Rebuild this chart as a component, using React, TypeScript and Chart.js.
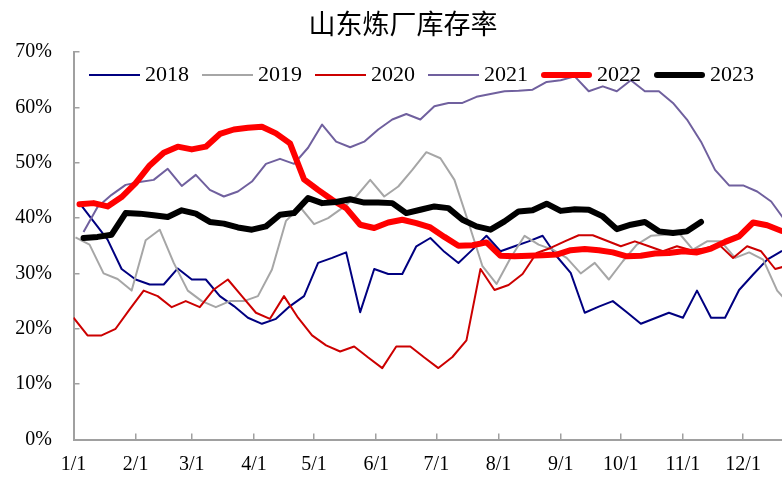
import React, { useEffect, useRef } from 'react';
import { Chart, registerables } from 'chart.js';

Chart.register(...registerables);

const chartTitle = '山东炼厂库存率';
const seriesNames = ['2018', '2019', '2020', '2021', '2022', '2023'];
const monthTickDays = [0, 31, 59, 90, 120, 151, 181, 212, 243, 273, 304, 334];
const monthTickLabels = ['1/1', '2/1', '3/1', '4/1', '5/1', '6/1', '7/1', '8/1', '9/1', '10/1', '11/1', '12/1'];
const yTickStep = 10;
const yMin = 0;
const yMax = 70;
const xMaxDay = 353.4;

// day of year (0 = 1/1) of each series' first weekly reading
const firstWeekDay = [3, 1, 0, 5, 3, 5];

const values2018 = [42.7, 39.4, 36.1, 30.8, 28.9, 28, 28, 30.9, 28.9, 28.9, 25.9, 24.1, 22, 20.9, 21.8, 24.1, 25.9, 31.9, 32.8, 33.8, 23, 30.8, 29.9, 29.9, 34.9, 36.4, 33.9, 31.9, 34.3, 36.8, 34, 34.9, 35.8, 36.8, 33.1, 30.1, 22.9, 24, 25, 23, 20.9, 21.9, 22.9, 22, 26.9, 22, 22, 27, 29.8, 32.5, 34, 35];
const values2019 = [36.5, 35.2, 30, 29, 26.9, 36, 37.9, 31.9, 26.9, 25, 23.9, 25, 25, 25.9, 30.7, 39.5, 42, 38.9, 40, 41.8, 43.9, 46.9, 43.9, 45.7, 48.7, 51.9, 50.8, 46.9, 39.2, 31.3, 28.1, 32.8, 36.8, 35.2, 34.3, 32.8, 30, 31.9, 28.9, 32.2, 35.2, 36.8, 37, 37.3, 34.3, 35.8, 35.8, 32.8, 33.8, 32.5, 26.9, 24];
const values2020 = [22, 18.8, 18.8, 20, 23.5, 26.9, 25.9, 23.9, 25, 23.9, 27.1, 28.9, 25.9, 22.9, 21.8, 25.9, 22, 18.8, 17, 15.9, 16.8, 14.8, 12.9, 16.8, 16.8, 14.8, 12.9, 14.9, 17.9, 30.8, 27, 27.9, 29.9, 33.7, 34.6, 35.8, 36.9, 36.9, 35.9, 34.9, 35.8, 34.9, 34, 34.9, 34.2, 34.5, 35.2, 32.8, 34.9, 34, 30.8, 31.5];
const values2021 = [37.5, 42, 44.2, 46, 46.5, 46.9, 48.9, 45.8, 47.8, 45.1, 43.9, 44.8, 46.6, 49.8, 50.7, 49.8, 52.7, 56.9, 53.8, 52.8, 53.8, 56, 57.8, 58.8, 57.8, 60.2, 60.8, 60.8, 61.9, 62.4, 62.9, 63, 63.2, 64.6, 64.9, 65.6, 62.9, 63.8, 62.9, 64.9, 62.9, 62.9, 60.8, 57.8, 53.8, 48.7, 45.9, 45.9, 44.8, 43, 39.5];
const values2022 = [42.5, 42.7, 42.1, 43.8, 46.3, 49.5, 51.8, 52.9, 52.4, 52.9, 55.2, 56, 56.3, 56.5, 55.3, 53.5, 47, 45.1, 43.3, 41.8, 38.8, 38.2, 39.2, 39.7, 39.1, 38.3, 36.6, 35, 35.1, 35.6, 33.2, 33.1, 33.2, 33.3, 33.4, 34.2, 34.4, 34.2, 33.8, 33.1, 33.2, 33.6, 33.7, 34, 33.8, 34.5, 35.7, 36.7, 39.2, 38.7, 37.7];
const values2023 = [36.4, 36.6, 37, 40.9, 40.8, 40.5, 40.2, 41.4, 40.8, 39.3, 39, 38.3, 37.9, 38.5, 40.6, 40.9, 43.6, 42.7, 42.9, 43.4, 42.8, 42.8, 42.7, 40.9, 41.5, 42.1, 41.8, 39.7, 38.5, 37.9, 39.4, 41.2, 41.4, 42.6, 41.3, 41.6, 41.5, 40.3, 38, 38.8, 39.3, 37.6, 37.3, 37.6, 39.3];

const seriesValues = [values2018, values2019, values2020, values2021, values2022, values2023];
const seriesColors = ['#000080', '#A6A6A6', '#CC0000', '#70609E', '#FF0000', '#000000'];
const seriesWidths = [2, 2, 2, 2, 6, 6];

const serif = "'Liberation Serif', 'Times New Roman', serif";
const axisColor = '#A0A0A0';

function weeklyPoints(values: number[], startDay: number) {
  return values.map((v, i) => ({ x: startDay + 7 * i, y: v }));
}

const titlePlugin = {
  id: 'centeredTitle',
  afterDraw(chart: any) {
    const { ctx } = chart;
    ctx.save();
    ctx.font = "27px 'Noto Sans CJK SC', sans-serif";
    ctx.fillStyle = '#000';
    ctx.textAlign = 'center';
    ctx.textBaseline = 'middle';
    ctx.fillText(chartTitle, 403, 24);
    ctx.restore();
  },
};

const inlineLegendPlugin = {
  id: 'inlineLegend',
  afterDatasetsDraw(chart: any) {
    const { ctx, chartArea } = chart;
    ctx.save();
    ctx.font = `22px ${serif}`;
    ctx.textBaseline = 'middle';
    ctx.textAlign = 'left';
    let x = chartArea.left + 15.5;
    const y = chartArea.top + 23;
    const sampleLen = 51;
    chart.data.datasets.forEach((ds: any) => {
      const w = ds.borderWidth;
      const capInset = w > 3 ? w / 2 : 0;
      ctx.beginPath();
      ctx.strokeStyle = ds.borderColor;
      ctx.lineWidth = w;
      ctx.lineCap = w > 3 ? 'round' : 'butt';
      ctx.moveTo(x + capInset, y);
      ctx.lineTo(x + sampleLen - capInset, y);
      ctx.stroke();
      x += sampleLen + 5;
      ctx.fillStyle = '#000';
      ctx.fillText(ds.label, x, y);
      x += ctx.measureText(ds.label).width + 13;
    });
    ctx.restore();
  },
};

export default function App() {
  const canvasRef = useRef<HTMLCanvasElement | null>(null);

  useEffect(() => {
    if (!canvasRef.current) return;
    const datasets = seriesNames.map((name, i) => ({
      label: name,
      data: weeklyPoints(seriesValues[i], firstWeekDay[i]),
      borderColor: seriesColors[i],
      backgroundColor: seriesColors[i],
      borderWidth: seriesWidths[i],
      pointRadius: 0,
      pointHoverRadius: 0,
      fill: false,
      tension: 0,
      borderJoinStyle: 'round' as const,
      borderCapStyle: (seriesWidths[i] > 3 ? 'round' : 'butt') as any,
      order: seriesNames.length - i,
    }));

    const chart = new Chart(canvasRef.current, {
      type: 'line',
      data: { datasets },
      plugins: [titlePlugin, inlineLegendPlugin],
      options: {
        animation: false,
        responsive: false,
        maintainAspectRatio: false,
        layout: { padding: { left: 0, right: 0, top: 52, bottom: 0 } },
        plugins: {
          title: { display: false },
          legend: { display: false },
          tooltip: { enabled: false },
        },
        scales: {
          x: {
            type: 'linear',
            min: 0,
            max: xMaxDay,
            afterBuildTicks: (scale: any) => {
              scale.ticks = monthTickDays.map((d) => ({ value: d }));
            },
            afterFit: (scale: any) => {
              scale.height = 39;
            },
            ticks: {
              autoSkip: false,
              maxRotation: 0,
              minRotation: 0,
              padding: 19,
              color: '#000',
              font: { family: serif, size: 20 },
              callback: (value: any) => {
                const idx = monthTickDays.indexOf(Number(value));
                return idx >= 0 ? monthTickLabels[idx] : '';
              },
            },
            grid: {
              display: true,
              drawOnChartArea: false,
              drawTicks: true,
              tickLength: -6,
              color: axisColor,
              lineWidth: 1.5,
            },
            border: { display: true, color: axisColor, width: 2 },
          },
          y: {
            min: yMin,
            max: yMax,
            afterFit: (scale: any) => {
              scale.width = 73.5;
            },
            ticks: {
              stepSize: yTickStep,
              padding: 27.5,
              color: '#000',
              font: { family: serif, size: 20 },
              callback: (value: any) => `${value}%`,
            },
            grid: {
              display: true,
              drawOnChartArea: false,
              drawTicks: true,
              tickLength: -6,
              color: axisColor,
              lineWidth: 1.5,
            },
            border: { display: true, color: axisColor, width: 2 },
          },
        },
      } as any,
    });
    return () => chart.destroy();
  }, []);

  return (
    <div style={{ position: 'fixed', left: 0, top: 0, width: 782, height: 479, background: '#fff' }}>
      <canvas ref={canvasRef} width={782} height={479} style={{ width: 782, height: 479, display: 'block' }} />
    </div>
  );
}
